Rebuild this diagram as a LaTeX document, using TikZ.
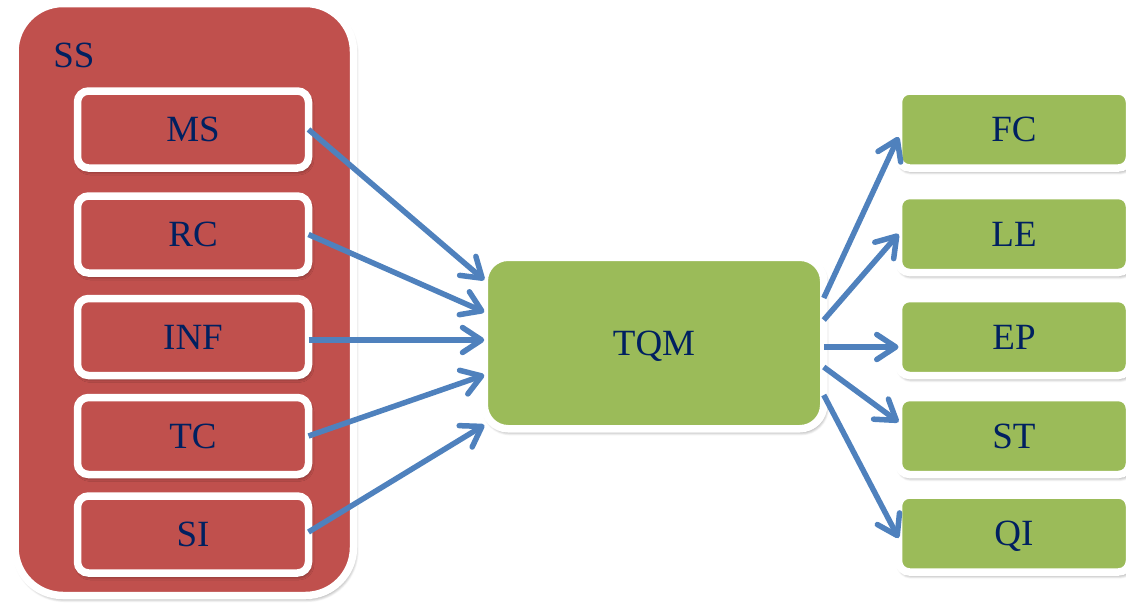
\documentclass[tikz,border=0pt]{standalone}
\usepackage{fontspec}
\setmainfont{Liberation Serif}
\usetikzlibrary{arrows.meta,calc,shadows.blur}
\definecolor{boxred}{HTML}{C0504D}
\definecolor{boxgreen}{HTML}{9BBB59}
\definecolor{linkblue}{HTML}{4F81BD}
\definecolor{labelnavy}{HTML}{002060}
\tikzset{
  softshadow/.style={blur shadow={shadow xshift=1.5pt,shadow yshift=-3pt,
      shadow blur radius=4pt,shadow blur steps=8,shadow opacity=55}},
  labelfont/.style={font=\fontsize{37}{40}\selectfont,text=labelnavy,
      text height=24.5pt,text depth=0pt},
  panel/.style={draw=white,line width=7.5pt,rounded corners=11pt,
      minimum width=231pt,minimum height=77pt,inner sep=0pt,outer sep=0pt,
      labelfont,softshadow},
  redbox/.style={panel,fill=boxred},
  greenbox/.style={panel,fill=boxgreen},
  hub/.style={panel,fill=boxgreen,minimum width=339.5pt,minimum height=171.5pt,
      rounded corners=24pt},
  container/.style={draw=white,line width=7.5pt,rounded corners=48pt,fill=boxred,
      minimum width=338.5pt,minimum height=592pt,inner sep=0pt,outer sep=0pt,
      softshadow},
  link/.style={draw=linkblue,line width=5.5pt,
      -{Straight Barb[length=19pt,width=25pt,round]}},
}
\begin{document}
\begin{tikzpicture}[x=1pt,y=-1pt]
  \useasboundingbox (0,0) rectangle (1126,603);

  % grouping panel on the left
  \node[container] (ss) at (184.25,299.5) {};
  \node[labelfont] (sslabel) at (74,55) {SS};

  % left column
  \node[redbox] (ms)  at (193,129.5) {MS};
  \node[redbox] (rc)  at (193,234.5) {RC};
  \node[redbox] (inf) at (193,337)   {INF};
  \node[redbox] (tc)  at (193,436)   {TC};
  \node[redbox] (si)  at (193,534.5) {SI};

  % central hub
  \node[hub] (tqm) at (654,343) {TQM};

  % right column
  \node[greenbox] (fc) at (1014,129.5) {FC};
  \node[greenbox] (le) at (1014,234)   {LE};
  \node[greenbox] (ep) at (1014,337)   {EP};
  \node[greenbox] (st) at (1014,436)   {ST};
  \node[greenbox] (qi) at (1014,533.5) {QI};

  % inputs into the hub
  \draw[link] (ms.east) -- ($(tqm.west)+(0,-63)$);
  \draw[link] (rc.east) -- ($(tqm.west)+(0,-31)$);
  \draw[link] ($(inf.east)+(0,3)$) -- ($(tqm.west)+(0,-3)$);
  \draw[link] (tc.east) -- ($(tqm.west)+(0,32)$);
  \draw[link] ($(si.east)+(0,-2.5)$) -- ($(tqm.west)+(0,82)$);

  % outputs from the hub
  \draw[link] ($(tqm.east)+(0,-45)$) -- ($(fc.west)+(0,7.5)$);
  \draw[link] ($(tqm.east)+(0,-23)$) -- (le.west);
  \draw[link] ($(tqm.east)+(0,4)$)   -- ($(ep.west)+(0,10)$);
  \draw[link] ($(tqm.east)+(0,24)$)  -- ($(st.west)+(0,-14)$);
  \draw[link] ($(tqm.east)+(0,52)$)  -- ($(qi.west)+(0,4.5)$);
\end{tikzpicture}
\end{document}
